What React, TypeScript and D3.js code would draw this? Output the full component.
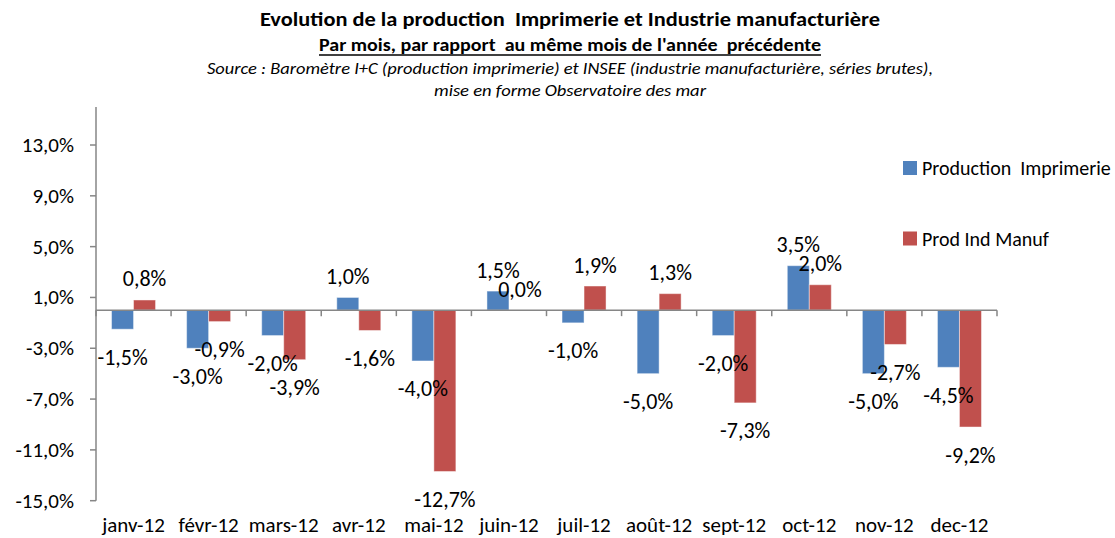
import React from "react";
import * as d3 from "d3";

const categories = ["janv-12", "févr-12", "mars-12", "avr-12", "mai-12", "juin-12", "juil-12", "août-12", "sept-12", "oct-12", "nov-12", "dec-12"];
const imprimerie = [-1.5, -3.0, -2.0, 1.0, -4.0, 1.5, -1.0, -5.0, -2.0, 3.5, -5.0, -4.5];
const manuf = [0.8, -0.9, -3.9, -1.6, -12.7, 0.0, 1.9, 1.3, -7.3, 2.0, -2.7, -9.2];
const yTicks = [-15, -11, -7, -3, 1, 5, 9, 13];
const seriesNames = ["Production  Imprimerie", "Prod Ind Manuf"];
const seriesColors = ["#4F81BD", "#C0504D"];
const title = "Evolution de la production  Imprimerie et Industrie manufacturière";
const subtitle = "Par mois, par rapport  au même mois de l'année  précédente";
const source1 = "Source : Baromètre I+C (production imprimerie) et INSEE (industrie manufacturière, séries brutes),";
const source2 = "mise en forme Observatoire des mar";

const FONT = "Carlito, 'Open Sans', sans-serif";
const fmt = (v: number) => v.toFixed(1).replace(".", ",") + "%";
const pre = { whiteSpace: "pre" as const };

export default function App() {
  const W = 1115, H = 538;
  const left = 96, right = 997;
  const y = d3.scaleLinear().domain([-15, 16]).range([500.7, 106.9]);
  const x0 = d3.scaleBand<string>().domain(categories).range([left, right]).paddingInner(0.414).paddingOuter(0.207);
  const x1 = d3.scaleBand<number>().domain([0, 1]).range([0, x0.bandwidth()]);
  const step = x0.step();
  const y0 = y(0);
  const series = [imprimerie, manuf];
  const axisColor = "#868686";
  const cx = 570;

  return (
    <svg width={W} height={H} style={{ position: "absolute", left: 0, top: 0, background: "#fff" }} fontFamily={FONT}>
      <text x={cx} y={19} textAnchor="middle" dominantBaseline="central" fontWeight="bold" fontSize={20} textLength={620} lengthAdjust="spacingAndGlyphs" style={pre}>{title}</text>
      <text x={cx} y={45} textAnchor="middle" dominantBaseline="central" fontWeight="bold" fontSize={17.5} textLength={502} lengthAdjust="spacingAndGlyphs" style={pre}>{subtitle}</text>
      <line x1={cx - 251} x2={cx + 251} y1={55} y2={55} stroke="#000" strokeWidth={1.3} />
      <text x={cx} y={68} textAnchor="middle" dominantBaseline="central" fontStyle="italic" fontSize={16.5} textLength={726} lengthAdjust="spacingAndGlyphs" style={pre}>{source1}</text>
      <text x={cx} y={90} textAnchor="middle" dominantBaseline="central" fontStyle="italic" fontSize={16.5} textLength={272} lengthAdjust="spacingAndGlyphs" style={pre}>{source2}</text>

      {/* bars */}
      {series.map((vals, si) =>
        vals.map((v, i) => {
          const bx = (x0(categories[i]) as number) + (x1(si) as number);
          const yy = y(v);
          return (
            <rect key={`b${si}-${i}`} x={bx} y={Math.min(yy, y0)} width={x1.bandwidth()} height={Math.abs(yy - y0)} fill={seriesColors[si]} stroke="#ffffff" strokeOpacity={0.45} strokeWidth={1} />
          );
        })
      )}

      {/* y axis */}
      <line x1={left} x2={left} y1={y(16)} y2={y(-15)} stroke={axisColor} strokeWidth={1.5} />
      {yTicks.map((t) => (
        <g key={`t${t}`}>
          <line x1={left - 6} x2={left} y1={y(t)} y2={y(t)} stroke={axisColor} strokeWidth={1.5} />
          <text x={74} y={y(t)} textAnchor="end" dominantBaseline="central" fontSize={21} fill="#000">{fmt(t)}</text>
        </g>
      ))}

      {/* x axis at zero */}
      <line x1={left} x2={right} y1={y0} y2={y0} stroke={axisColor} strokeWidth={1.5} />
      {d3.range(categories.length + 1).map((k) => (
        <line key={`xt${k}`} x1={left + k * step} x2={left + k * step} y1={y0} y2={y0 + 6} stroke={axisColor} strokeWidth={1.5} />
      ))}
      {categories.map((c) => (
        <text key={c} x={(x0(c) as number) + x0.bandwidth() / 2} y={525} textAnchor="middle" dominantBaseline="central" fontSize={21} fill="#000">{c}</text>
      ))}

      {/* data labels */}
      {series.map((vals, si) =>
        vals.map((v, i) => {
          const bx = (x0(categories[i]) as number) + (x1(si) as number) + x1.bandwidth() / 2;
          const ly = v >= 0 ? y(v) - 21 : y(v) + 28;
          return (
            <text key={`l${si}-${i}`} x={bx} y={ly} textAnchor="middle" dominantBaseline="central" fontSize={22} fill="#000">{fmt(v)}</text>
          );
        })
      )}

      {/* legend */}
      {seriesNames.map((n, si) => (
        <g key={n}>
          <rect x={903} y={161 + si * 70.5} width={14} height={14} fill={seriesColors[si]} />
          <text x={922} y={168 + si * 70.5} dominantBaseline="central" fontSize={20} fill="#000" style={pre}>{n}</text>
        </g>
      ))}
    </svg>
  );
}
